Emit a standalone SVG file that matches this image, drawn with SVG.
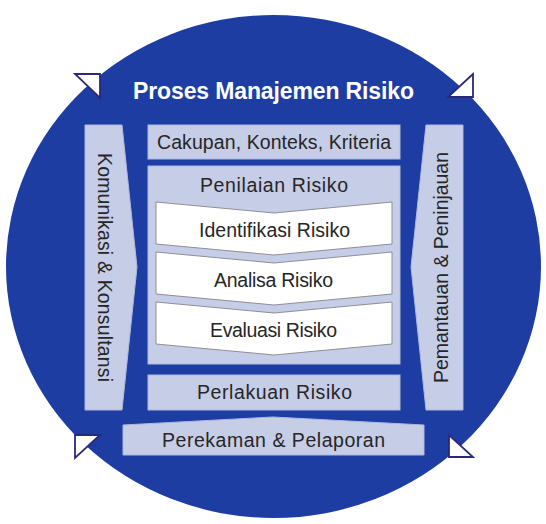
<svg xmlns="http://www.w3.org/2000/svg" width="546" height="524" viewBox="0 0 546 524">
  <style>
    .box { fill: #C6CDE7; stroke: #AEB8DE; stroke-width: 1; }
    .chev { fill: #FFFFFF; stroke: #8E8E96; stroke-width: 1; }
    .lbl { font-family: "Liberation Sans", Arial, sans-serif; font-size: 19.5px; fill: #262626; text-anchor: middle; }
    .title { font-family: "Liberation Sans", Arial, sans-serif; font-size: 23px; font-weight: bold; fill: #FFFFFF; text-anchor: middle; }
    .arrow { fill: #FFFFFF; stroke: #2B2878; stroke-width: 1.8; stroke-linejoin: miter; }
  </style>
  <rect width="546" height="524" fill="#FFFFFF"/>
  <g id="circle">
    <ellipse cx="273.5" cy="266.5" rx="267.5" ry="251.5" fill="#1E3DA2"/>
    <text class="title" x="273.5" y="99" textLength="281">Proses Manajemen Risiko</text>
  </g>
  <g id="cycle-arrows">
    <polygon class="arrow" points="75,74 100,74 100,98"/>
    <polygon class="arrow" points="473,74 448,97 473,97"/>
    <polygon class="arrow" points="75,435 100,435 75,458"/>
    <polygon class="arrow" points="449,435 449,457 473,457"/>
  </g>
  <g id="komunikasi">
    <polygon class="box" points="85,125 122,125 137,267 122,410 85,410"/>
    <text class="lbl" transform="translate(98,267.5) rotate(90)" textLength="229">Komunikasi &amp; Konsultansi</text>
  </g>
  <g id="pemantauan">
    <polygon class="box" points="426,125 463,125 463,410 426,410 411,267"/>
    <text class="lbl" transform="translate(448,267.5) rotate(-90)" textLength="231">Pemantauan &amp; Peninjauan</text>
  </g>
  <g id="cakupan">
    <rect class="box" x="148" y="125" width="252" height="34"/>
    <text class="lbl" x="274" y="149" textLength="234">Cakupan, Konteks, Kriteria</text>
  </g>
  <g id="penilaian">
    <rect class="box" x="148" y="166" width="252" height="198"/>
    <text class="lbl" x="274" y="192" textLength="148">Penilaian Risiko</text>
  </g>
  <g id="identifikasi">
    <polygon class="chev" points="156,202 274,213 392,202 392,244 274,255 156,244"/>
    <text class="lbl" x="274.5" y="237" textLength="151">Identifikasi Risiko</text>
  </g>
  <g id="analisa">
    <polygon class="chev" points="156,252 274,263 392,252 392,294 274,305 156,294"/>
    <text class="lbl" x="273.5" y="287" textLength="119">Analisa Risiko</text>
  </g>
  <g id="evaluasi">
    <polygon class="chev" points="156,302 274,313 392,302 392,344 274,355 156,344"/>
    <text class="lbl" x="273.5" y="337" textLength="127">Evaluasi Risiko</text>
  </g>
  <g id="perlakuan">
    <rect class="box" x="148" y="375" width="252" height="35"/>
    <text class="lbl" x="274.5" y="399" textLength="155">Perlakuan Risiko</text>
  </g>
  <g id="perekaman">
    <polygon class="box" points="123,425 273,417 424,425 424,455 123,455"/>
    <text class="lbl" x="273.5" y="447" textLength="223">Perekaman &amp; Pelaporan</text>
  </g>
</svg>
